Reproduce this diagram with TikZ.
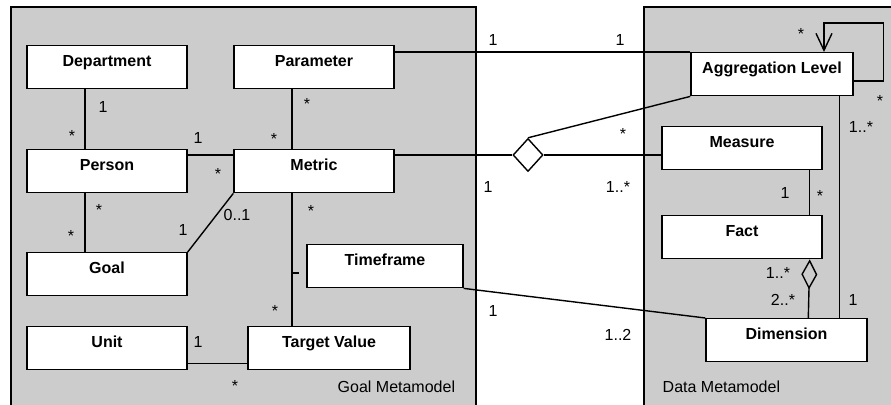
\documentclass[tikz,border=0pt]{standalone}
\usepackage{fontspec}
\setmainfont{Liberation Sans}
\usetikzlibrary{arrows.meta,shapes.geometric}
\definecolor{panelgray}{gray}{0.8}
\newcommand\lblfont{\fontsize{8}{9.6}\selectfont}
\tikzset{
  cls/.style={draw,fill=white,anchor=north,minimum width=80pt,inner ysep=0pt,
    text height=10.25pt,text depth=11.25pt,font=\lblfont\bfseries},
  mult/.style={anchor=base,inner sep=0pt,font=\lblfont},
  aggr/.style={-{Diamond[open,length=15pt,width=8pt]}},
  selfref/.style={-{Straight Barb[length=8.5pt,width=8pt]}}
}

\begin{document}
\begin{tikzpicture}[x=0.5pt,y=-0.5pt,line width=0.7pt]
    \useasboundingbox (0,0) rectangle (891,405);
    \clip (0,0) rectangle (891,405);
    \filldraw[fill=panelgray] (11,7) rectangle (476,420);
    \filldraw[fill=panelgray] (644,7) rectangle (910,420);
    \node[mult,anchor=base west] (gm) at (337,393){Goal Metamodel};
    \node[mult,anchor=base west] (dm) at (662,393){Data Metamodel};
    % goal side
    \node[cls] (dept) at (107,45){Department};
    \node[cls] (param) at (314,45){Parameter};
    \node[cls] (person) at (107,149){Person};
    \node[cls] (metric) at (314,149){Metric};
    \node[cls] (goal) at (107,252){Goal};
    \node[cls] (unit) at (107,326){Unit};
    \node[cls,minimum width=81pt] (target) at (329,326){Target Value};
    \node[cls,minimum width=78pt] (time) at (385,244){Timeframe};
    % data side
    \node[cls,minimum width=81pt] (agg) at (772,52){Aggregation Level};
    \node[cls] (measure) at (742,126){Measure};
    \node[cls] (fact) at (742,215){Fact};
    \node[cls,minimum width=80.5pt] (dim) at (786.5,318){Dimension};
    \node[draw,fill=white,diamond,inner sep=0pt,minimum width=15pt,minimum height=16.5pt] (dia) at (528,155){};
    \coordinate (tick) at (292,273);
    \coordinate (loop) at (824,23);

    \draw ([xshift=-11pt]dept.south)--([xshift=-11pt]person.north);
    \node[mult] (m1) at (103,113){1};
    \node[mult] (m2) at (72,142){*};
    \draw ([xshift=-11pt]param.south)--([xshift=-11pt]metric.north);
    \node[mult] (m3) at (307,110){*};
    \node[mult] (m4) at (274,145){*};
    \draw ([yshift=-3pt]person.north east)--([yshift=-3pt]person.north east -| metric.west);
    \node[mult] (m5) at (198,144){1};
    \node[mult] (m6) at (218,180){*};
    \draw ([xshift=-11pt]person.south)--([xshift=-11pt]goal.north);
    \node[mult] (m7) at (99,216){*};
    \node[mult] (m8) at (71,242){*};
    \draw (metric.south west)--(goal.north east);
    \node[mult] (m9) at (237,221){0..1};
    \node[mult] (m10) at (183,236){1};
    \draw ([xshift=-11pt]metric.south)--([xshift=-11pt]metric.south |- target.north);
    \draw (tick)--++(7,0);
    \node[mult] (m11) at (311,217){*};
    \node[mult] (m12) at (275,317){*};
    \draw ([yshift=3.5pt]unit.south east)--([yshift=3.5pt]unit.south east -| target.west);
    \node[mult] (m13) at (198,348){1};
    \node[mult] (m14) at (235,392){*};

    % between the two models
    \draw ([yshift=-3.5pt]param.north east)--(agg.north west);
    \node[mult] (m15) at (493,46){1};
    \node[mult] (m16) at (620,46){1};
    \draw ([yshift=-3pt]metric.north east)--(dia.west);
    \draw (dia.east)--(dia.east -| measure.west);
    \draw (dia.north)--(agg.south west);
    \node[mult] (m17) at (488,193){1};
    \node[mult] (m18) at (618,193){1..*};
    \node[mult] (m19) at (623,140){*};
    \draw (time.south east)--(dim.north west);
    \node[mult] (m20) at (493,317){1};
    \node[mult] (m21) at (618,341){1..2};

    \draw ([xshift=-6.5pt]measure.south east)--([xshift=-6.5pt]fact.north east);
    \node[mult] (m22) at (785,199){1};
    \node[mult] (m23) at (820,202){*};
    \draw[aggr] ([xshift=51.5pt]dim.north west)--([xshift=-6.5pt]fact.south east);
    \node[mult] (m24) at (778,279){1..*};
    \node[mult] (m25) at (783,306){2..*};
    \draw ([xshift=-7pt]agg.south east)--([xshift=-14pt]dim.north east);
    \node[mult] (m26) at (861,133){1..*};
    \node[mult] (m27) at (853,306){1};
    \draw[selfref] ([yshift=-14.5pt]agg.north east)--++(30,0)|-(loop)--(loop |- agg.north);
    \node[mult] (m28) at (801,40){*};
    \node[mult] (m29) at (880,107){*};
\end{tikzpicture}
\end{document}
